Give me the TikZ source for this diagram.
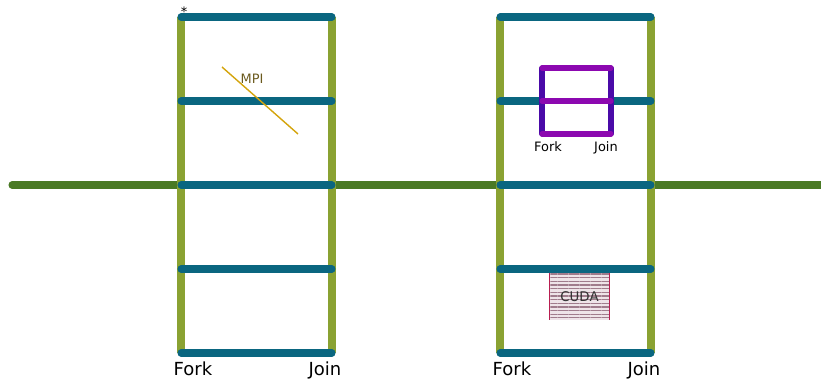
\documentclass[tikz,border=0pt]{standalone}
\usepackage{fontspec}
\setmainfont{DejaVu Sans}
\usetikzlibrary{patterns.meta}

\definecolor{mainGreen}{HTML}{4A7A25}
\definecolor{barOlive}{HTML}{8AA232}
\definecolor{branchTeal}{HTML}{0A6680}
\definecolor{mpiGold}{HTML}{D4A40C}
\definecolor{mpiBrown}{HTML}{6B5A1E}
\definecolor{innerPurple}{HTML}{8C08B0}
\definecolor{innerIndigo}{HTML}{4A0AA8}
\definecolor{cudaRed}{HTML}{B81E50}
\definecolor{cudaFill}{HTML}{EEE4E8}
\definecolor{cudaLine}{HTML}{A07C8C}

\begin{document}
\begin{tikzpicture}[
  x=0.025cm, y=-0.025cm,
  mainline/.style={draw=mainGreen, line width=5pt, line cap=round},
  forkbar/.style={draw=barOlive, line width=5pt},
  branch/.style={draw=branchTeal, line width=5pt, line cap=round},
  innerbar/.style={draw=innerIndigo, line width=3.6pt, line cap=round},
  innerbranch/.style={draw=innerPurple, line width=3.6pt, line cap=round},
  mpiline/.style={draw=mpiGold, line width=1pt},
  cudabox/.style={minimum width=1.475cm, minimum height=1.15cm, inner sep=0pt,
    preaction={fill=cudaFill},
    pattern={Lines[angle=0, distance=2.6pt, line width=0.9pt]}, pattern color=cudaLine,
    font=\fontsize{9.5}{11}\selectfont, text=black!80},
  biglabel/.style={font=\fontsize{12.8}{15}\selectfont, inner sep=0pt, anchor=base},
  smalllabel/.style={font=\fontsize{9.2}{11}\selectfont, inner sep=0pt},
]
\useasboundingbox (0,0) rectangle (821,380);

% --- fork/join points of both blocks ---
\foreach \r/\y in {0/17, 1/101, 2/185, 3/269, 4/353} {
  \coordinate (lf\r) at (181,\y);
  \coordinate (lj\r) at (332,\y);
  \coordinate (rf\r) at (500,\y);
  \coordinate (rj\r) at (651,\y);
}
\coordinate (start) at (12,185);
\coordinate (end) at (825,185);

% --- main thread ---
\draw[mainline] (start) -- (lf2);
\draw[mainline] (lj2) -- (rf2);
\draw[mainline] (rj2) -- (end);

% --- fork and join bars ---
\draw[forkbar] (lf0) -- (lf4);
\draw[forkbar] (lj0) -- (lj4);
\draw[forkbar] (rf0) -- (rf4);
\draw[forkbar] (rj0) -- (rj4);

% --- (a) left block ---
\foreach \r in {0,...,4}
  \draw[branch] (lf\r) -- (lj\r);

\coordinate (mpiA) at (222,67);
\coordinate (mpiB) at (298,134);
\draw[mpiline] (mpiA) -- (mpiB);
\node[smalllabel, text=mpiBrown] (mpi) at (252,79) {MPI};
\node[smalllabel] (star) at (184,12) {*};

% --- (b) right block ---
\foreach \r in {0,2,3,4}
  \draw[branch] (rf\r) -- (rj\r);

% nested fork/join
\foreach \r/\y in {0/68, 1/101, 2/134} {
  \coordinate (nf\r) at (542,\y);
  \coordinate (nj\r) at (611,\y);
}
\draw[branch] (rf1) -- (nf1);
\draw[branch] (nj1) -- (rj1);
\draw[innerbar] (nf0) -- (nf2);
\draw[innerbar] (nj0) -- (nj2);
\foreach \r in {0,1,2}
  \draw[innerbranch] (nf\r) -- (nj\r);
\node[smalllabel, anchor=base] (nfork) at (548,152) {Fork};
\node[smalllabel, anchor=base] (njoin) at (606,152) {Join};

% CUDA kernel
\node[cudabox] (cuda) at (579.5,296.5) {CUDA};
\draw[cudaRed, line width=0.8pt] (cuda.north west) -- (cuda.south west);
\draw[cudaRed, line width=0.8pt] (cuda.north east) -- (cuda.south east);

% --- labels ---
\node[biglabel] (lfork) at (193,375) {Fork};
\node[biglabel] (ljoin) at (325,375) {Join};
\node[biglabel] (rfork) at (512,375) {Fork};
\node[biglabel] (rjoin) at (644,375) {Join};

\end{tikzpicture}
\end{document}
